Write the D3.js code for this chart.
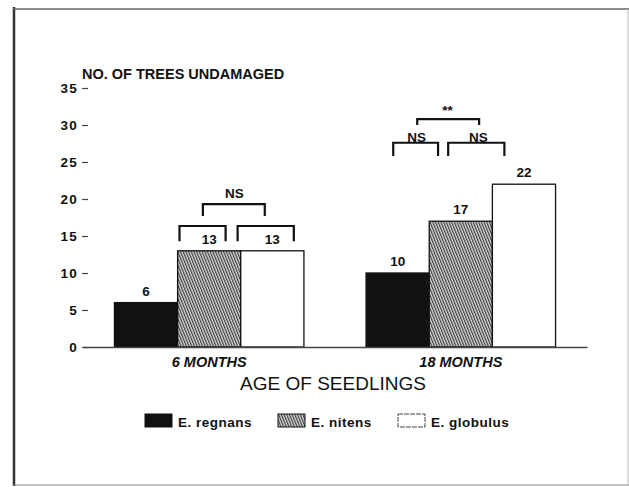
<!DOCTYPE html>
<html>
<head>
<meta charset="utf-8">
<script src="https://cdn.jsdelivr.net/npm/d3@7"></script>
<style>
  html, body { margin: 0; padding: 0; background: #fff; }
  svg { display: block; font-family: "Liberation Sans", Arial, Helvetica, sans-serif; }
</style>
</head>
<body>
<svg id="chart" width="629" height="487"></svg>
<script>
// ---- data ----
const groups = ["6 MONTHS", "18 MONTHS"];
const species = ["E. regnans", "E. nitens", "E. globulus"];
const regnans = [6, 10];
const nitens = [13, 17];
const globulus = [13, 22];
const yTicks = [0, 5, 10, 15, 20, 25, 30, 35];
const yTitle = "NO. OF TREES UNDAMAGED";
const xTitle = "AGE OF SEEDLINGS";
// significance brackets: group, start/end in bar units within group, top value, leg value, label, label pos, label value
const brackets = [
  { g: 0, x0: 1.03, x1: 1.76, top: 16.35, leg: 14.3, label: "", lx: 0, ly: 0 },
  { g: 0, x0: 1.95, x1: 2.84, top: 16.35, leg: 14.3, label: "", lx: 0, ly: 0 },
  { g: 0, x0: 1.40, x1: 2.38, top: 19.3, leg: 17.7, label: "NS", lx: 1.90, ly: 20.1 },
  { g: 1, x0: 0.43, x1: 1.14, top: 27.6, leg: 25.8, label: "NS", lx: 0.80, ly: 27.7 },
  { g: 1, x0: 1.30, x1: 2.19, top: 27.6, leg: 25.8, label: "NS", lx: 1.78, ly: 27.7 },
  { g: 1, x0: 0.81, x1: 1.79, top: 30.8, leg: 30.0, label: "**", lx: 1.29, ly: 31.3 }
];

const seriesValues = [regnans, nitens, globulus];

const svg = d3.select("#chart");
const defs = svg.append("defs");
const pat = defs.append("pattern")
  .attr("id", "hatch").attr("patternUnits", "userSpaceOnUse")
  .attr("width", 2.5).attr("height", 2.5)
  .attr("patternTransform", "rotate(-22)");
pat.append("rect").attr("width", 2.5).attr("height", 2.5).attr("fill", "#d8d8d8");
pat.append("line").attr("x1", 0.6).attr("y1", 0).attr("x2", 0.6).attr("y2", 2.5)
  .attr("stroke", "#333").attr("stroke-width", 1.1);

const fills = ["#111", "url(#hatch)", "#fff"];

// frame
svg.append("line").attr("x1", 14).attr("y1", 7).attr("x2", 14).attr("y2", 486)
  .attr("stroke", "#333").attr("stroke-width", 2.5);
svg.append("line").attr("x1", 13).attr("y1", 9).attr("x2", 629).attr("y2", 9)
  .attr("stroke", "#666").attr("stroke-width", 1.5);
svg.append("line").attr("x1", 13).attr("y1", 485).attr("x2", 629).attr("y2", 485)
  .attr("stroke", "#888").attr("stroke-width", 1.2);
svg.append("line").attr("x1", 628).attr("y1", 9).attr("x2", 628).attr("y2", 485)
  .attr("stroke", "#bbb").attr("stroke-width", 1);

// scales
const y = d3.scaleLinear().domain([0, 35]).range([347, 88]);
const x = d3.scaleBand().domain(groups).range([83, 587])
  .paddingInner(0.247).paddingOuter(0.125);
const xs = d3.scaleBand().domain(species).range([0, x.bandwidth()]);
const unit = d3.scaleLinear().domain([0, 3]).range([0, x.bandwidth()]);

// y axis (ticks only)
const yAxis = svg.append("g").attr("transform", "translate(88,0)")
  .call(d3.axisLeft(y).tickValues(yTicks).tickSize(6).tickPadding(4));
yAxis.select(".domain").remove();
yAxis.selectAll(".tick line").attr("stroke", "#444").attr("stroke-width", 1.2);
yAxis.selectAll(".tick text").attr("font-size", 13.5).attr("font-weight", "bold")
  .attr("fill", "#111").attr("letter-spacing", 1.2).attr("font-family", "Liberation Sans, Arial, sans-serif");

svg.append("text").attr("x", 82).attr("y", 79).text(yTitle)
  .attr("font-size", 14.5).attr("font-weight", "bold").attr("fill", "#111");

// bars
species.forEach((s, i) => {
  svg.append("g").selectAll("rect").data(groups).join("rect")
    .attr("x", (g) => x(g) + xs(s))
    .attr("y", (g, j) => y(seriesValues[i][j]))
    .attr("width", xs.bandwidth())
    .attr("height", (g, j) => y(0) - y(seriesValues[i][j]))
    .attr("fill", fills[i])
    .attr("stroke", "#111").attr("stroke-width", 1.3);
  svg.append("g").selectAll("text").data(groups).join("text")
    .attr("x", (g) => x(g) + xs(s) + xs.bandwidth() / 2)
    .attr("y", (g, j) => y(seriesValues[i][j]) - 7)
    .attr("text-anchor", "middle")
    .attr("font-size", 13.5).attr("font-weight", "bold").attr("fill", "#111")
    .text((g, j) => seriesValues[i][j]);
});

// x axis
const xAxis = svg.append("g").attr("transform", "translate(0,347)")
  .call(d3.axisBottom(x).tickSize(0).tickPadding(10));
xAxis.select(".domain").attr("stroke", "#444").attr("stroke-width", 1.6);
xAxis.selectAll(".tick text").attr("font-size", 14.5).attr("font-weight", "bold")
  .attr("font-style", "italic").attr("fill", "#111")
  .attr("font-family", "Liberation Sans, Arial, sans-serif");

svg.append("text").attr("x", 333).attr("y", 390).attr("text-anchor", "middle")
  .text(xTitle).attr("font-size", 19).attr("fill", "#111");

// brackets
const bg = svg.append("g");
brackets.forEach((b) => {
  const gx = x(groups[b.g]);
  const x0 = gx + unit(b.x0), x1 = gx + unit(b.x1);
  bg.append("path")
    .attr("d", `M${x0},${y(b.leg)}V${y(b.top)}H${x1}V${y(b.leg)}`)
    .attr("fill", "none").attr("stroke", "#111").attr("stroke-width", 2.2);
  if (b.label) {
    bg.append("text").attr("x", gx + unit(b.lx)).attr("y", y(b.ly))
      .attr("text-anchor", "middle").attr("font-size", 13.5)
      .attr("font-weight", "bold").attr("fill", "#111").text(b.label);
  }
});

// legend
const legX = [145, 278, 398];
const leg = svg.append("g");
species.forEach((s, i) => {
  leg.append("rect").attr("x", legX[i]).attr("y", 414).attr("width", 27).attr("height", 13)
    .attr("fill", fills[i]).attr("stroke", i === 2 ? "#444" : "#111")
    .attr("stroke-width", 1).attr("stroke-dasharray", i === 2 ? "5,1" : null);
  leg.append("text").attr("x", legX[i] + 33).attr("y", 427).text(s)
    .attr("font-size", 13.5).attr("font-weight", "bold").attr("letter-spacing", 0.5)
    .attr("fill", "#111");
});
</script>
</body>
</html>
